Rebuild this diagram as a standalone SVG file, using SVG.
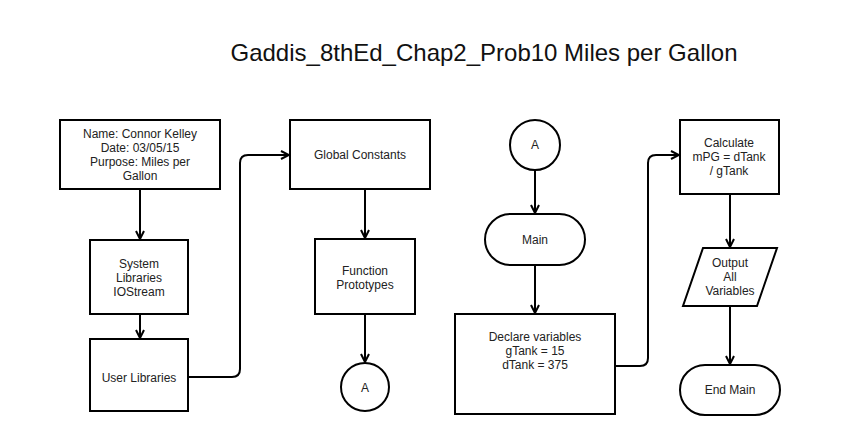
<svg xmlns="http://www.w3.org/2000/svg" width="853" height="435" viewBox="0 0 853 435">
<defs>
<marker id="arr" viewBox="0 0 10 10" refX="9" refY="5" markerWidth="10" markerHeight="10" markerUnits="userSpaceOnUse" orient="auto">
<path d="M1,1 L9,5 L1,9" fill="none" stroke="#000" stroke-width="2"/>
</marker>
<style>
.n{fill:#fff;stroke:#000;stroke-width:2}
.t{font-family:"Liberation Sans",Arial,sans-serif;font-size:12px;fill:#222;text-anchor:middle}
.c{fill:none;stroke:#000;stroke-width:2;marker-end:url(#arr)}
</style>
</defs>
<rect width="853" height="435" fill="#fff"/>
<text x="484" y="61" font-family="Liberation Sans,Arial,sans-serif" font-size="24" text-anchor="middle" fill="#111">Gaddis_8thEd_Chap2_Prob10 Miles per Gallon</text>
<g id="connectors">
<path class="c" d="M140,189 V239"/>
<path class="c" d="M140,314 V338"/>
<path class="c" d="M188,377 H232 Q240,377 240,369 V163 Q240,155 248,155 H289"/>
<path class="c" d="M365,189 V238"/>
<path class="c" d="M365,314 V362"/>
<path class="c" d="M535,170 V213"/>
<path class="c" d="M535,265 V313"/>
<path class="c" d="M615,366 H640 Q648,366 648,358 V163 Q648,155 656,155 H679"/>
<path class="c" d="M730,194 V247"/>
<path class="c" d="M730,306 V364"/>
</g>
<g id="header"><rect class="n" x="60" y="120" width="160" height="69"/>
<text class="t" x="140" y="138">Name: Connor Kelley</text><text class="t" x="140" y="152">Date: 03/05/15</text><text class="t" x="140" y="166">Purpose: Miles per</text><text class="t" x="140" y="180">Gallon</text></g>
<g id="syslib"><rect class="n" x="90" y="240" width="98" height="74"/>
<text class="t" x="139" y="268">System</text><text class="t" x="139" y="282">Libraries</text><text class="t" x="139" y="296">IOStream</text></g>
<g id="userlib"><rect class="n" x="90" y="339" width="98" height="72"/>
<text class="t" x="139" y="382">User Libraries</text></g>
<g id="globals"><rect class="n" x="290" y="120" width="140" height="69"/>
<text class="t" x="360" y="159">Global Constants</text></g>
<g id="protos"><rect class="n" x="315" y="239" width="100" height="75"/>
<text class="t" x="365" y="275">Function</text><text class="t" x="365" y="289">Prototypes</text></g>
<g id="connA1"><circle class="n" cx="365" cy="387" r="24"/>
<text class="t" x="365" y="392">A</text></g>
<g id="connA2"><circle class="n" cx="535" cy="145" r="25"/>
<text class="t" x="535" y="149">A</text></g>
<g id="main"><rect class="n" x="485" y="214" width="100" height="51" rx="25.5"/>
<text class="t" x="535" y="244">Main</text></g>
<g id="declare"><rect class="n" x="455" y="314" width="160" height="100"/>
<text class="t" x="535" y="341">Declare variables</text><text class="t" x="535" y="355">gTank = 15</text><text class="t" x="535" y="369">dTank = 375</text></g>
<g id="calc"><rect class="n" x="680" y="120" width="99" height="74"/>
<text class="t" x="729" y="147">Calculate</text><text class="t" x="729" y="161">mPG = dTank</text><text class="t" x="729" y="175">/ gTank</text></g>
<g id="output"><polygon class="n" points="703,248 777,248 757,306 683,306"/>
<text class="t" x="730" y="267">Output</text><text class="t" x="730" y="281">All</text><text class="t" x="730" y="295">Variables</text></g>
<g id="endmain"><rect class="n" x="680" y="365" width="100" height="50" rx="25"/>
<text class="t" x="730" y="394">End Main</text></g>
</svg>
